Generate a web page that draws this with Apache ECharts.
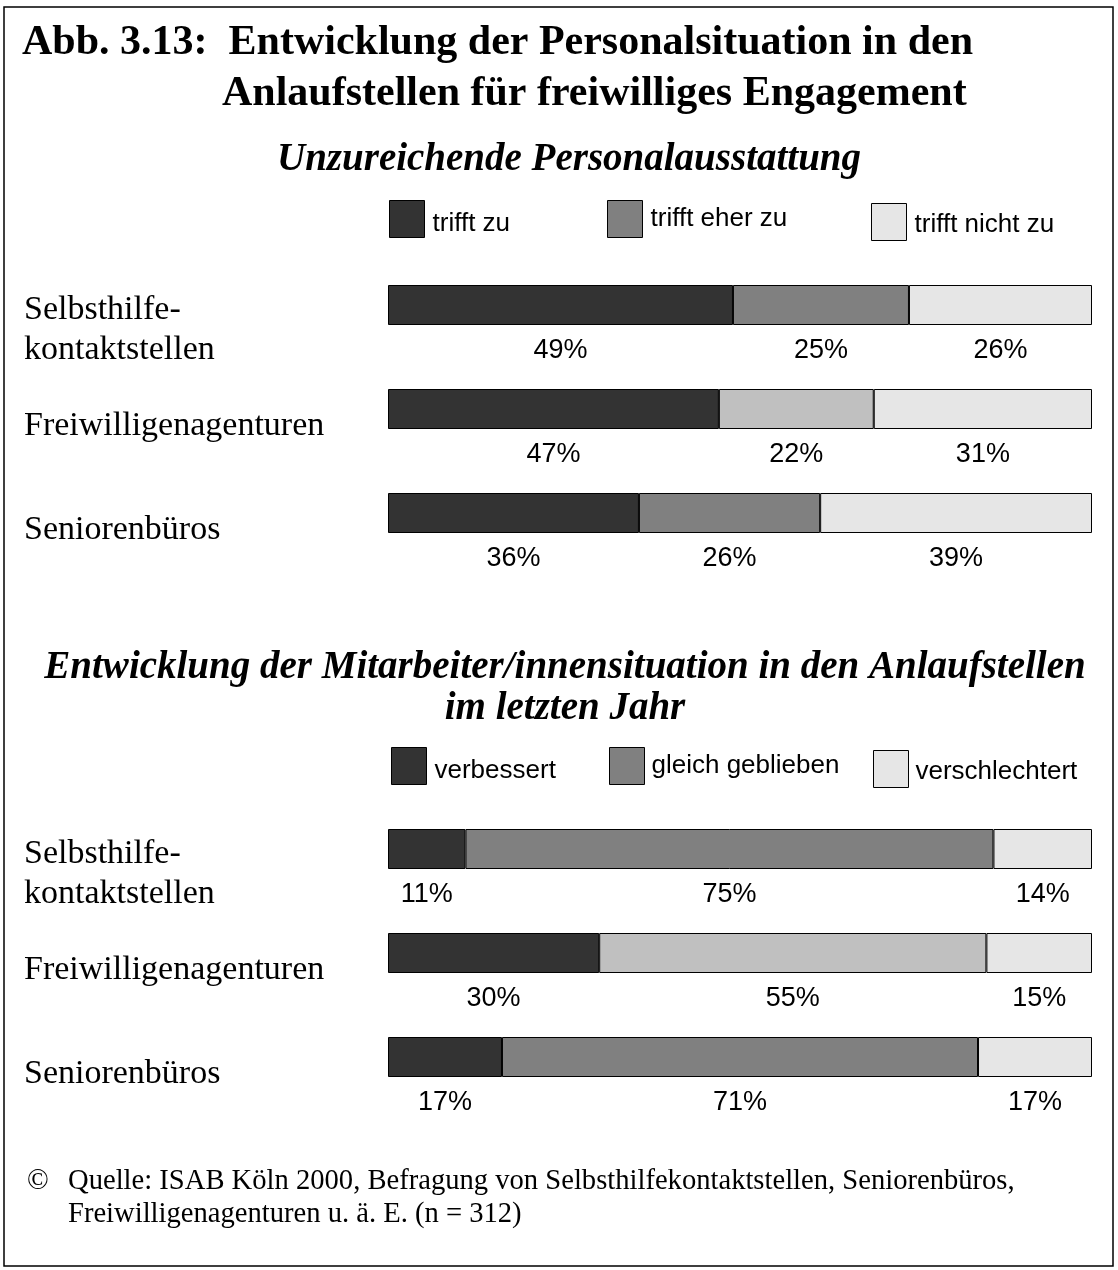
<!DOCTYPE html>
<html>
<head>
<meta charset="utf-8">
<script src="https://cdn.jsdelivr.net/npm/echarts@6/dist/echarts.min.js"></script>
<style>
  html, body { margin: 0; padding: 0; background: #fff; }
  #chart { width: 1118px; height: 1270px; }
</style>
</head>
<body>
<div id="chart"></div>
<script>
// Kategorien (Zeilen beider Diagramme)
const categories = ['Selbsthilfe-\nkontaktstellen', 'Freiwilligenagenturen', 'Seniorenbüros']

// Unzureichende Personalausstattung (Prozent, wie beschriftet)
const personalNames = ['trifft zu', 'trifft eher zu', 'trifft nicht zu']
const personalTrifftZu = [49, 47, 36]
const personalEherZu = [25, 22, 26]
const personalNichtZu = [26, 31, 39]

// Mitarbeiter/innensituation im letzten Jahr (Prozent, wie beschriftet)
const mitarbeiterNames = ['verbessert', 'gleich geblieben', 'verschlechtert']
const mitarbeiterVerbessert = [11, 30, 17]
const mitarbeiterGleich = [75, 55, 71]
const mitarbeiterVerschlechtert = [14, 15, 17]

const serif = '"Liberation Serif", "Times New Roman", serif'
const sans = '"Liberation Sans", Arial, sans-serif'

const colDark = '#333333'
const colMid = '#808080'
const colMidLight = '#c0c0c0' // Freiwilligenagenturen, mittleres Segment
const colLight = '#e6e6e6'

// Balken füllen jeweils die ganze Zeile (Summen sind nicht immer genau 100)
function toShares(rows) {
  return rows.map((row) =>
    row.map((v, i) => {
      let sum = 0
      rows.forEach(r => { sum += r[i] })
      return (v / sum) * 100
    })
  )
}

function buildSeries(names, rows, axisIndex) {
  const shares = toShares(rows)
  const colors = [colDark, colMid, colLight]
  return names.map((name, s) => ({
    name: name,
    type: 'bar',
    stack: 'panel' + axisIndex,
    xAxisIndex: axisIndex,
    yAxisIndex: axisIndex,
    barWidth: 40,
    itemStyle: { color: colors[s], borderColor: '#000', borderWidth: 1 },
    label: {
      show: true,
      position: 'bottom',
      distance: 12,
      fontFamily: sans,
      fontSize: 27,
      color: '#000',
      formatter: (p) => rows[s][p.dataIndex] + '%'
    },
    data: shares[s].map((v, i) => {
      // mittleres Segment der Freiwilligenagenturen ist heller
      if (s === 1 && i === 1) {
        return { value: v, itemStyle: { color: colMidLight } }
      }
      return v
    })
  }))
}

// jeder Legendeneintrag einzeln, die Texte sitzen im Original unterschiedlich hoch
function legendItem(name, left, top, padTop, padLeft) {
  return {
    data: [name],
    left: left,
    top: top,
    padding: 0,
    icon: 'rect',
    itemWidth: 35,
    itemHeight: 37,
    selectedMode: false,
    itemStyle: { borderColor: '#000', borderWidth: 1 },
    formatter: '{t|{name}}',
    textStyle: {
      fontFamily: sans,
      fontSize: 26,
      color: '#000',
      rich: {
        t: { fontFamily: sans, fontSize: 26, color: '#000', padding: [padTop, 0, 0, padLeft] }
      }
    }
  }
}

const catLabelStyle = { fontFamily: serif, fontSize: 34, color: '#000', lineHeight: 40 }

function yAxisFor(gridIndex) {
  return {
    type: 'category',
    gridIndex: gridIndex,
    inverse: true,
    data: categories,
    axisLine: { show: false },
    axisTick: { show: false },
    axisLabel: {
      align: 'left',
      margin: 364,
      formatter: (v) => {
        const lines = v.split('\n')
        if (lines.length > 1) {
          return lines.map(l => '{two|' + l + '}').join('\n')
        }
        return '{one|' + v + '}'
      },
      rich: {
        two: Object.assign({}, catLabelStyle, { padding: [50, 0, 0, 0] }),
        one: Object.assign({}, catLabelStyle, { padding: [34, 0, 0, 0] })
      }
    }
  }
}

const chart = echarts.init(document.getElementById('chart'))

const option = {
  backgroundColor: '#fff',
  animation: false,
  title: [
    {
      text: 'Abb. 3.13:  Entwicklung der Personalsituation in den',
      left: 22, top: 18, padding: 0,
      textStyle: { fontFamily: serif, fontSize: 42, fontWeight: 'bold', lineHeight: 50, color: '#000' }
    },
    {
      text: 'Anlaufstellen für freiwilliges Engagement',
      left: 222, top: 69, padding: 0,
      textStyle: { fontFamily: serif, fontSize: 42, fontWeight: 'bold', lineHeight: 50, color: '#000' }
    },
    {
      text: 'Unzureichende Personalausstattung',
      left: 569, top: 140, padding: 0, textAlign: 'center',
      textStyle: { fontFamily: serif, fontSize: 39, fontWeight: 'bold', fontStyle: 'italic', lineHeight: 39, color: '#000' }
    },
    {
      text: 'Entwicklung der Mitarbeiter/innensituation in den Anlaufstellen\nim letzten Jahr',
      left: 565, top: 647, padding: 0, textAlign: 'center',
      textStyle: { fontFamily: serif, fontSize: 39, fontWeight: 'bold', fontStyle: 'italic', lineHeight: 41, color: '#000' }
    },
    {
      text: '©',
      left: 27, top: 1165, padding: 0,
      textStyle: { fontFamily: serif, fontSize: 28.6, fontWeight: 'normal', lineHeight: 33, color: '#000' }
    },
    {
      text: 'Quelle: ISAB Köln 2000, Befragung von Selbsthilfekontaktstellen, Seniorenbüros,\nFreiwilligenagenturen u. ä. E. (n = 312)',
      left: 68, top: 1165, padding: 0,
      textStyle: { fontFamily: serif, fontSize: 28.6, fontWeight: 'normal', lineHeight: 33, color: '#000' }
    }
  ],
  legend: [
    legendItem(personalNames[0], 389, 200, 10, 3),
    legendItem(personalNames[1], 607, 200, 0, 3),
    legendItem(personalNames[2], 871, 203, 6, 3),
    legendItem(mitarbeiterNames[0], 391, 747, 10, 3),
    legendItem(mitarbeiterNames[1], 609, 747, 0, 2),
    legendItem(mitarbeiterNames[2], 873, 750, 6, 2)
  ],
  grid: [
    { left: 388, width: 704, top: 253, height: 312 },
    { left: 388, width: 704, top: 797, height: 312 }
  ],
  xAxis: [
    { type: 'value', gridIndex: 0, min: 0, max: 100, show: false },
    { type: 'value', gridIndex: 1, min: 0, max: 100, show: false }
  ],
  yAxis: [yAxisFor(0), yAxisFor(1)],
  series: [].concat(
    buildSeries(personalNames, [personalTrifftZu, personalEherZu, personalNichtZu], 0),
    buildSeries(mitarbeiterNames, [mitarbeiterVerbessert, mitarbeiterGleich, mitarbeiterVerschlechtert], 1)
  ),
  graphic: [
    {
      type: 'rect',
      silent: true,
      shape: { x: 4, y: 7, width: 1109, height: 1259 },
      style: { fill: 'none', stroke: '#000', lineWidth: 1.5 }
    }
  ]
}

chart.setOption(option)
</script>
</body>
</html>
